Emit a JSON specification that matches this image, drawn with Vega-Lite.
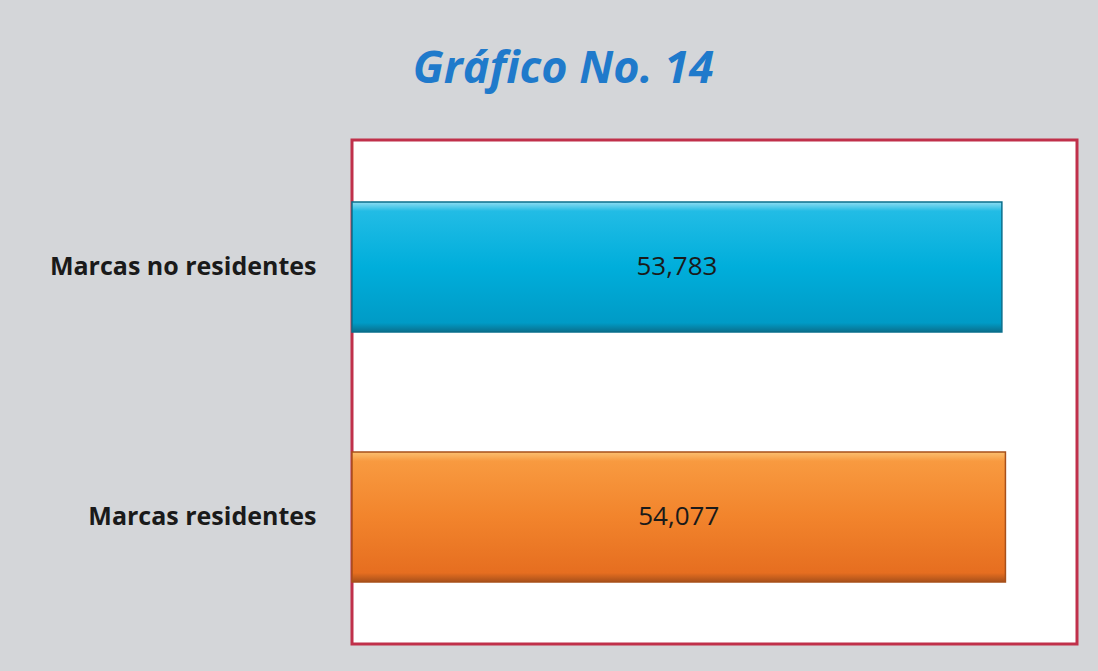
{
  "$schema": "https://vega.github.io/schema/vega-lite/v6.json",
  "width": 725,
  "height": 504,
  "autosize": {"type": "none"},
  "padding": {"left": 352, "top": 140, "right": 21, "bottom": 27},
  "background": "#d4d6d9",
  "title": {
    "text": "Gráfico No. 14",
    "font": "Open Sans",
    "fontStyle": "italic",
    "fontWeight": "bold",
    "fontSize": 45,
    "color": "#1f7acb",
    "anchor": "middle",
    "frame": "bounds",
    "baseline": "alphabetic",
    "offset": 12
  },
  "config": {
    "view": {"fill": "white", "stroke": "#c0304a", "strokeWidth": 3}
  },
  "data": {
    "values": [
      {"categoria": "Marcas no residentes", "valor": 53783},
      {"categoria": "Marcas residentes", "valor": 54077}
    ]
  },
  "encoding": {
    "y": {
      "field": "categoria",
      "type": "nominal",
      "sort": null,
      "scale": {"paddingInner": 0.48, "paddingOuter": 0.248},
      "axis": {
        "title": null,
        "domain": false,
        "ticks": false,
        "labelPadding": 36,
        "labelLimit": 500,
        "labelFont": "Open Sans",
        "labelFontSize": 25,
        "labelFontWeight": "bold",
        "labelColor": "#1a1a1a"
      }
    }
  },
  "layer": [
    {
      "transform": [{"filter": "datum.categoria === 'Marcas no residentes'"}],
      "mark": {
        "type": "bar",
        "stroke": "#0a6f8c",
        "strokeWidth": 1.5,
        "color": {
          "gradient": "linear", "x1": 0, "y1": 0, "x2": 0, "y2": 1,
          "stops": [
            {"offset": 0, "color": "#8fdcf2"},
            {"offset": 0.07, "color": "#22bce5"},
            {"offset": 0.5, "color": "#00aedb"},
            {"offset": 0.93, "color": "#009bc6"},
            {"offset": 1, "color": "#0a6f8c"}
          ]
        }
      },
      "encoding": {
        "x": {"field": "valor", "type": "quantitative", "scale": {"domain": [0, 60000]}, "axis": null}
      }
    },
    {
      "transform": [{"filter": "datum.categoria === 'Marcas residentes'"}],
      "mark": {
        "type": "bar",
        "stroke": "#a8501a",
        "strokeWidth": 1.5,
        "color": {
          "gradient": "linear", "x1": 0, "y1": 0, "x2": 0, "y2": 1,
          "stops": [
            {"offset": 0, "color": "#fbc070"},
            {"offset": 0.07, "color": "#f89a40"},
            {"offset": 0.5, "color": "#f2842c"},
            {"offset": 0.93, "color": "#e66e20"},
            {"offset": 1, "color": "#a8501a"}
          ]
        }
      },
      "encoding": {
        "x": {"field": "valor", "type": "quantitative", "scale": {"domain": [0, 60000]}, "axis": null}
      }
    },
    {
      "mark": {"type": "text", "font": "Open Sans", "fontSize": 26, "color": "#1a1a1a", "align": "center", "baseline": "middle"},
      "encoding": {
        "x": {"field": "valor", "type": "quantitative", "scale": {"domain": [0, 120000]}, "axis": null},
        "text": {"field": "valor", "type": "quantitative", "format": ",d"}
      }
    }
  ],
  "resolve": {"scale": {"x": "independent"}}
}
